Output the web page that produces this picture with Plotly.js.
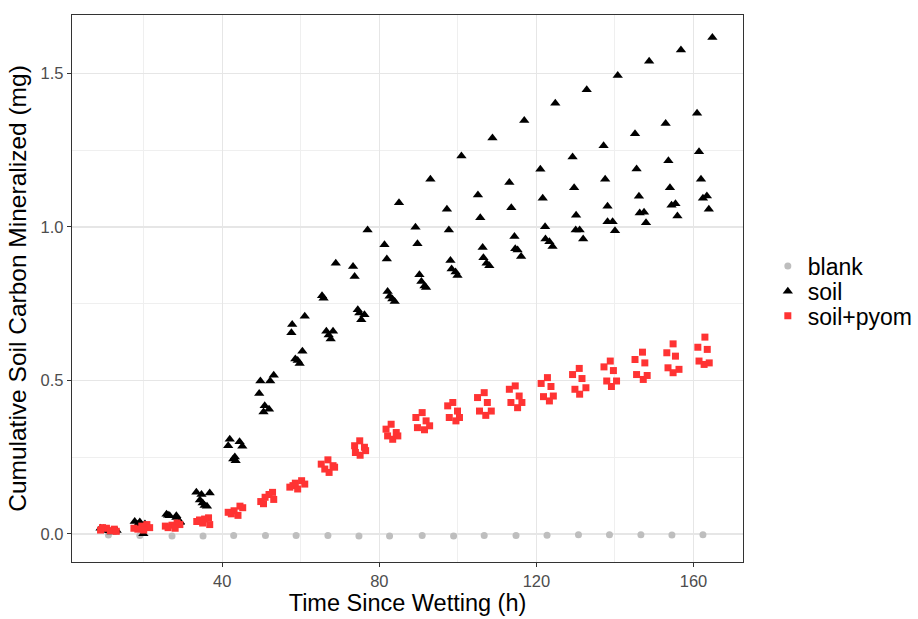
<!DOCTYPE html>
<html>
<head>
<meta charset="utf-8">
<script src="https://cdn.plot.ly/plotly-3.0.1.min.js"></script>
<style>html,body{margin:0;padding:0;background:#fff;}#chart{width:918px;height:619px;}</style>
</head>
<body>
<div id="chart"></div>
<script>
// blank
const blankTime = [11.0, 19.0, 27.2, 35.1, 42.9, 51.0, 58.8, 66.9, 74.8, 82.6, 90.9, 98.9, 106.7, 114.8, 122.7, 130.7, 138.6, 146.6, 154.5, 162.4];
const blankC = [-0.004, -0.006, -0.007, -0.007, -0.006, -0.006, -0.006, -0.006, -0.007, -0.007, -0.006, -0.007, -0.006, -0.006, -0.005, -0.003, -0.003, -0.003, -0.004, -0.003];

// soil
const soilTime = [
  9.7, 11.8, 13.1, 10.5, 11.2, 12.6, 9.0,
  17.7, 19.0, 20.3, 21.1, 19.9, 18.5, 19.6,
  25.8, 26.6, 28.3, 28.3, 29.2, 29.2, 26.2,
  33.4, 34.7, 36.8, 34.3, 35.5, 36.1, 35.0,
  44.4, 41.9, 41.5, 45.1, 42.8, 43.4, 43.2,
  53.1, 49.7, 52.2, 49.4, 50.8, 50.5, 51.9,
  61.0, 57.8, 57.6, 60.4, 58.6, 59.7, 59.2,
  68.9, 65.4, 65.8, 66.5, 68.2, 67.6, 67.1,
  77.0, 73.3, 73.7, 74.5, 76.2, 75.4, 74.9,
  85.0, 81.3, 81.9, 82.1, 82.6, 83.9, 83.3,
  93.0, 89.2, 89.7, 90.2, 90.7, 91.9, 91.5,
  100.9, 97.2, 97.7, 98.1, 98.4, 99.4, 99.9,
  108.8, 105.1, 105.7, 106.3, 106.5, 107.3, 108.0,
  116.9, 113.1, 113.6, 114.4, 114.6, 115.2, 116.1,
  124.8, 121.0, 121.6, 122.2, 122.3, 123.3, 124.1,
  132.8, 129.2, 129.6, 130.1, 130.0, 131.0, 131.9,
  140.7, 137.1, 137.5, 138.1, 138.1, 139.4, 140.0,
  148.7, 145.1, 145.5, 146.1, 146.3, 147.4, 147.9,
  156.8, 152.9, 153.6, 154.0, 154.4, 155.4, 155.9,
  164.8, 160.9, 161.4, 161.9, 162.4, 163.4, 163.9
];
const soilC = [
  0.016, 0.006, 0.011, 0.012, 0.010, 0.008, 0.018,
  0.040, 0.038, 0.032, 0.016, 0.000, 0.030, 0.025,
  0.064, 0.059, 0.059, 0.053, 0.039, 0.037, 0.060,
  0.135, 0.128, 0.133, 0.110, 0.092, 0.090, 0.100,
  0.300, 0.308, 0.287, 0.285, 0.244, 0.238, 0.250,
  0.517, 0.498, 0.498, 0.457, 0.417, 0.397, 0.406,
  0.709, 0.682, 0.655, 0.595, 0.570, 0.555, 0.565,
  0.882, 0.776, 0.768, 0.660, 0.660, 0.635, 0.648,
  0.990, 0.871, 0.839, 0.730, 0.714, 0.698, 0.720,
  1.079, 0.942, 0.896, 0.790, 0.774, 0.757, 0.765,
  1.156, 0.999, 0.945, 0.844, 0.822, 0.803, 0.808,
  1.231, 1.058, 0.990, 0.891, 0.863, 0.853, 0.842,
  1.290, 1.104, 1.030, 0.933, 0.900, 0.882, 0.874,
  1.347, 1.145, 1.063, 0.969, 0.929, 0.925, 0.904,
  1.403, 1.188, 1.094, 1.001, 0.961, 0.952, 0.936,
  1.447, 1.228, 1.128, 1.038, 0.990, 0.990, 0.961,
  1.494, 1.265, 1.156, 1.068, 1.017, 1.017, 0.988,
  1.540, 1.304, 1.189, 1.100, 1.046, 1.048, 1.014,
  1.577, 1.337, 1.216, 1.128, 1.071, 1.076, 1.036,
  1.618, 1.371, 1.245, 1.156, 1.094, 1.101, 1.058
];

// soil+pyom
const pyomTime = [
  9.5, 10.5, 12.5, 9.0, 11.5, 13.0,
  20.8, 19.5, 21.5, 17.5, 18.5, 20.0,
  28.5, 29.2, 27.2, 25.5, 26.2, 28.0,
  36.5, 35.5, 34.2, 33.5, 35.0, 36.8,
  44.5, 45.2, 43.0, 41.5, 42.3, 44.0,
  52.8, 51.9, 50.9, 49.8, 50.5, 53.1,
  60.2, 58.0, 59.2, 61.0, 57.2, 58.6,
  66.9, 65.2, 68.2, 66.1, 67.2, 68.6,
  75.0, 73.7, 76.2, 73.9, 75.1, 76.5,
  83.0, 81.7, 84.3, 82.1, 83.4, 84.7,
  90.9, 89.3, 91.9, 89.7, 91.5, 92.8,
  98.7, 97.4, 99.9, 97.8, 99.5, 100.4,
  106.7, 105.0, 107.5, 105.5, 107.1, 108.5,
  114.6, 113.1, 115.6, 113.5, 115.2, 116.3,
  122.8, 121.2, 123.7, 121.8, 123.3, 124.3,
  130.9, 129.2, 131.6, 129.8, 131.0, 132.6,
  138.8, 137.2, 139.6, 137.9, 139.1, 140.4,
  147.0, 145.1, 147.6, 145.5, 147.2, 148.2,
  154.8, 153.2, 155.4, 153.5, 154.8, 156.3,
  162.9, 161.1, 163.5, 161.4, 162.7, 164.0
];
const pyomC = [
  0.020, 0.018, 0.015, 0.012, 0.010, 0.008,
  0.030, 0.025, 0.020, 0.018, 0.015, 0.012,
  0.035, 0.030, 0.028, 0.025, 0.020, 0.018,
  0.052, 0.048, 0.045, 0.040, 0.035, 0.030,
  0.090, 0.085, 0.075, 0.070, 0.065, 0.060,
  0.135, 0.128, 0.119, 0.105, 0.098, 0.112,
  0.173, 0.157, 0.146, 0.162, 0.152, 0.165,
  0.241, 0.227, 0.222, 0.211, 0.200, 0.217,
  0.303, 0.287, 0.282, 0.265, 0.256, 0.271,
  0.357, 0.341, 0.330, 0.319, 0.308, 0.319,
  0.395, 0.379, 0.368, 0.346, 0.339, 0.352,
  0.428, 0.417, 0.400, 0.379, 0.368, 0.379,
  0.460, 0.444, 0.428, 0.400, 0.386, 0.400,
  0.482, 0.471, 0.449, 0.428, 0.411, 0.428,
  0.509, 0.490, 0.480, 0.447, 0.433, 0.449,
  0.539, 0.519, 0.506, 0.471, 0.455, 0.476,
  0.563, 0.544, 0.532, 0.498, 0.480, 0.498,
  0.592, 0.568, 0.557, 0.519, 0.503, 0.516,
  0.619, 0.590, 0.579, 0.541, 0.525, 0.536,
  0.641, 0.608, 0.601, 0.563, 0.552, 0.557
];

const xTickVals = [40, 80, 120, 160];
const yTickVals = [0, 0.5, 1.0, 1.5];
const yTickText = ['0.0', '0.5', '1.0', '1.5'];

const font = '"Liberation Sans", Arial, sans-serif';

const traces = [
  {x: blankTime, y: blankC, name: 'blank', type: 'scatter', mode: 'markers', legend: 'legend',
   marker: {symbol: 'circle', size: 7, color: '#BEBEBE'}},
  {x: soilTime, y: soilC, name: 'soil', type: 'scatter', mode: 'markers', legend: 'legend2',
   marker: {symbol: 'triangle-up', size: 9, color: '#000000'}},
  {x: pyomTime, y: pyomC, name: 'soil+pyom', type: 'scatter', mode: 'markers', legend: 'legend3',
   marker: {symbol: 'square', size: 7, color: '#FF3333'}}
];

const legFont = {family: font, size: 23, color: '#000000'};
const legBase = {x: 1.037, xanchor: 'left', yanchor: 'middle', font: legFont, bgcolor: 'rgba(0,0,0,0)'};

const layout = {
  width: 918, height: 619,
  margin: {l: 72, r: 175, t: 15, b: 57, autoexpand: false},
  paper_bgcolor: '#ffffff', plot_bgcolor: '#ffffff',
  font: {family: font, color: '#000000'},
  showlegend: true,
  legend: Object.assign({y: 0.541}, legBase),
  legend2: Object.assign({y: 0.495}, legBase),
  legend3: Object.assign({y: 0.450}, legBase),
  xaxis: {
    range: [1.73, 172.6], tickvals: xTickVals, ticktext: xTickVals.map(String),
    showgrid: true, gridcolor: '#E6E6E6', gridwidth: 1.5,
    minor: {tickvals: [20, 60, 100, 140], showgrid: true, gridcolor: '#EFEFEF', gridwidth: 1, ticks: ''},
    zeroline: false, showline: true, mirror: true, linecolor: '#333333', linewidth: 1.3,
    ticks: 'outside', ticklen: 4, tickcolor: '#333333', tickwidth: 1,
    tickfont: {family: font, size: 16.5, color: '#4D4D4D'},
    title: {text: 'Time Since Wetting (h)', font: {family: font, size: 23.5, color: '#000000'}, standoff: 5}
  },
  yaxis: {
    range: [-0.092, 1.691], tickvals: yTickVals, ticktext: yTickText,
    showgrid: true, gridcolor: '#E6E6E6', gridwidth: 1.5,
    minor: {tickvals: [0.25, 0.75, 1.25], showgrid: true, gridcolor: '#EFEFEF', gridwidth: 1, ticks: ''},
    zeroline: false, showline: true, mirror: true, linecolor: '#333333', linewidth: 1.3,
    ticks: 'outside', ticklen: 4, tickcolor: '#333333', tickwidth: 1,
    tickfont: {family: font, size: 16.5, color: '#4D4D4D'},
    title: {text: 'Cumulative Soil Carbon Mineralized (mg)', font: {family: font, size: 24.5, color: '#000000'}, standoff: 7}
  }
};

Plotly.newPlot('chart', traces, layout, {displayModeBar: false, staticPlot: true});
</script>
</body>
</html>
